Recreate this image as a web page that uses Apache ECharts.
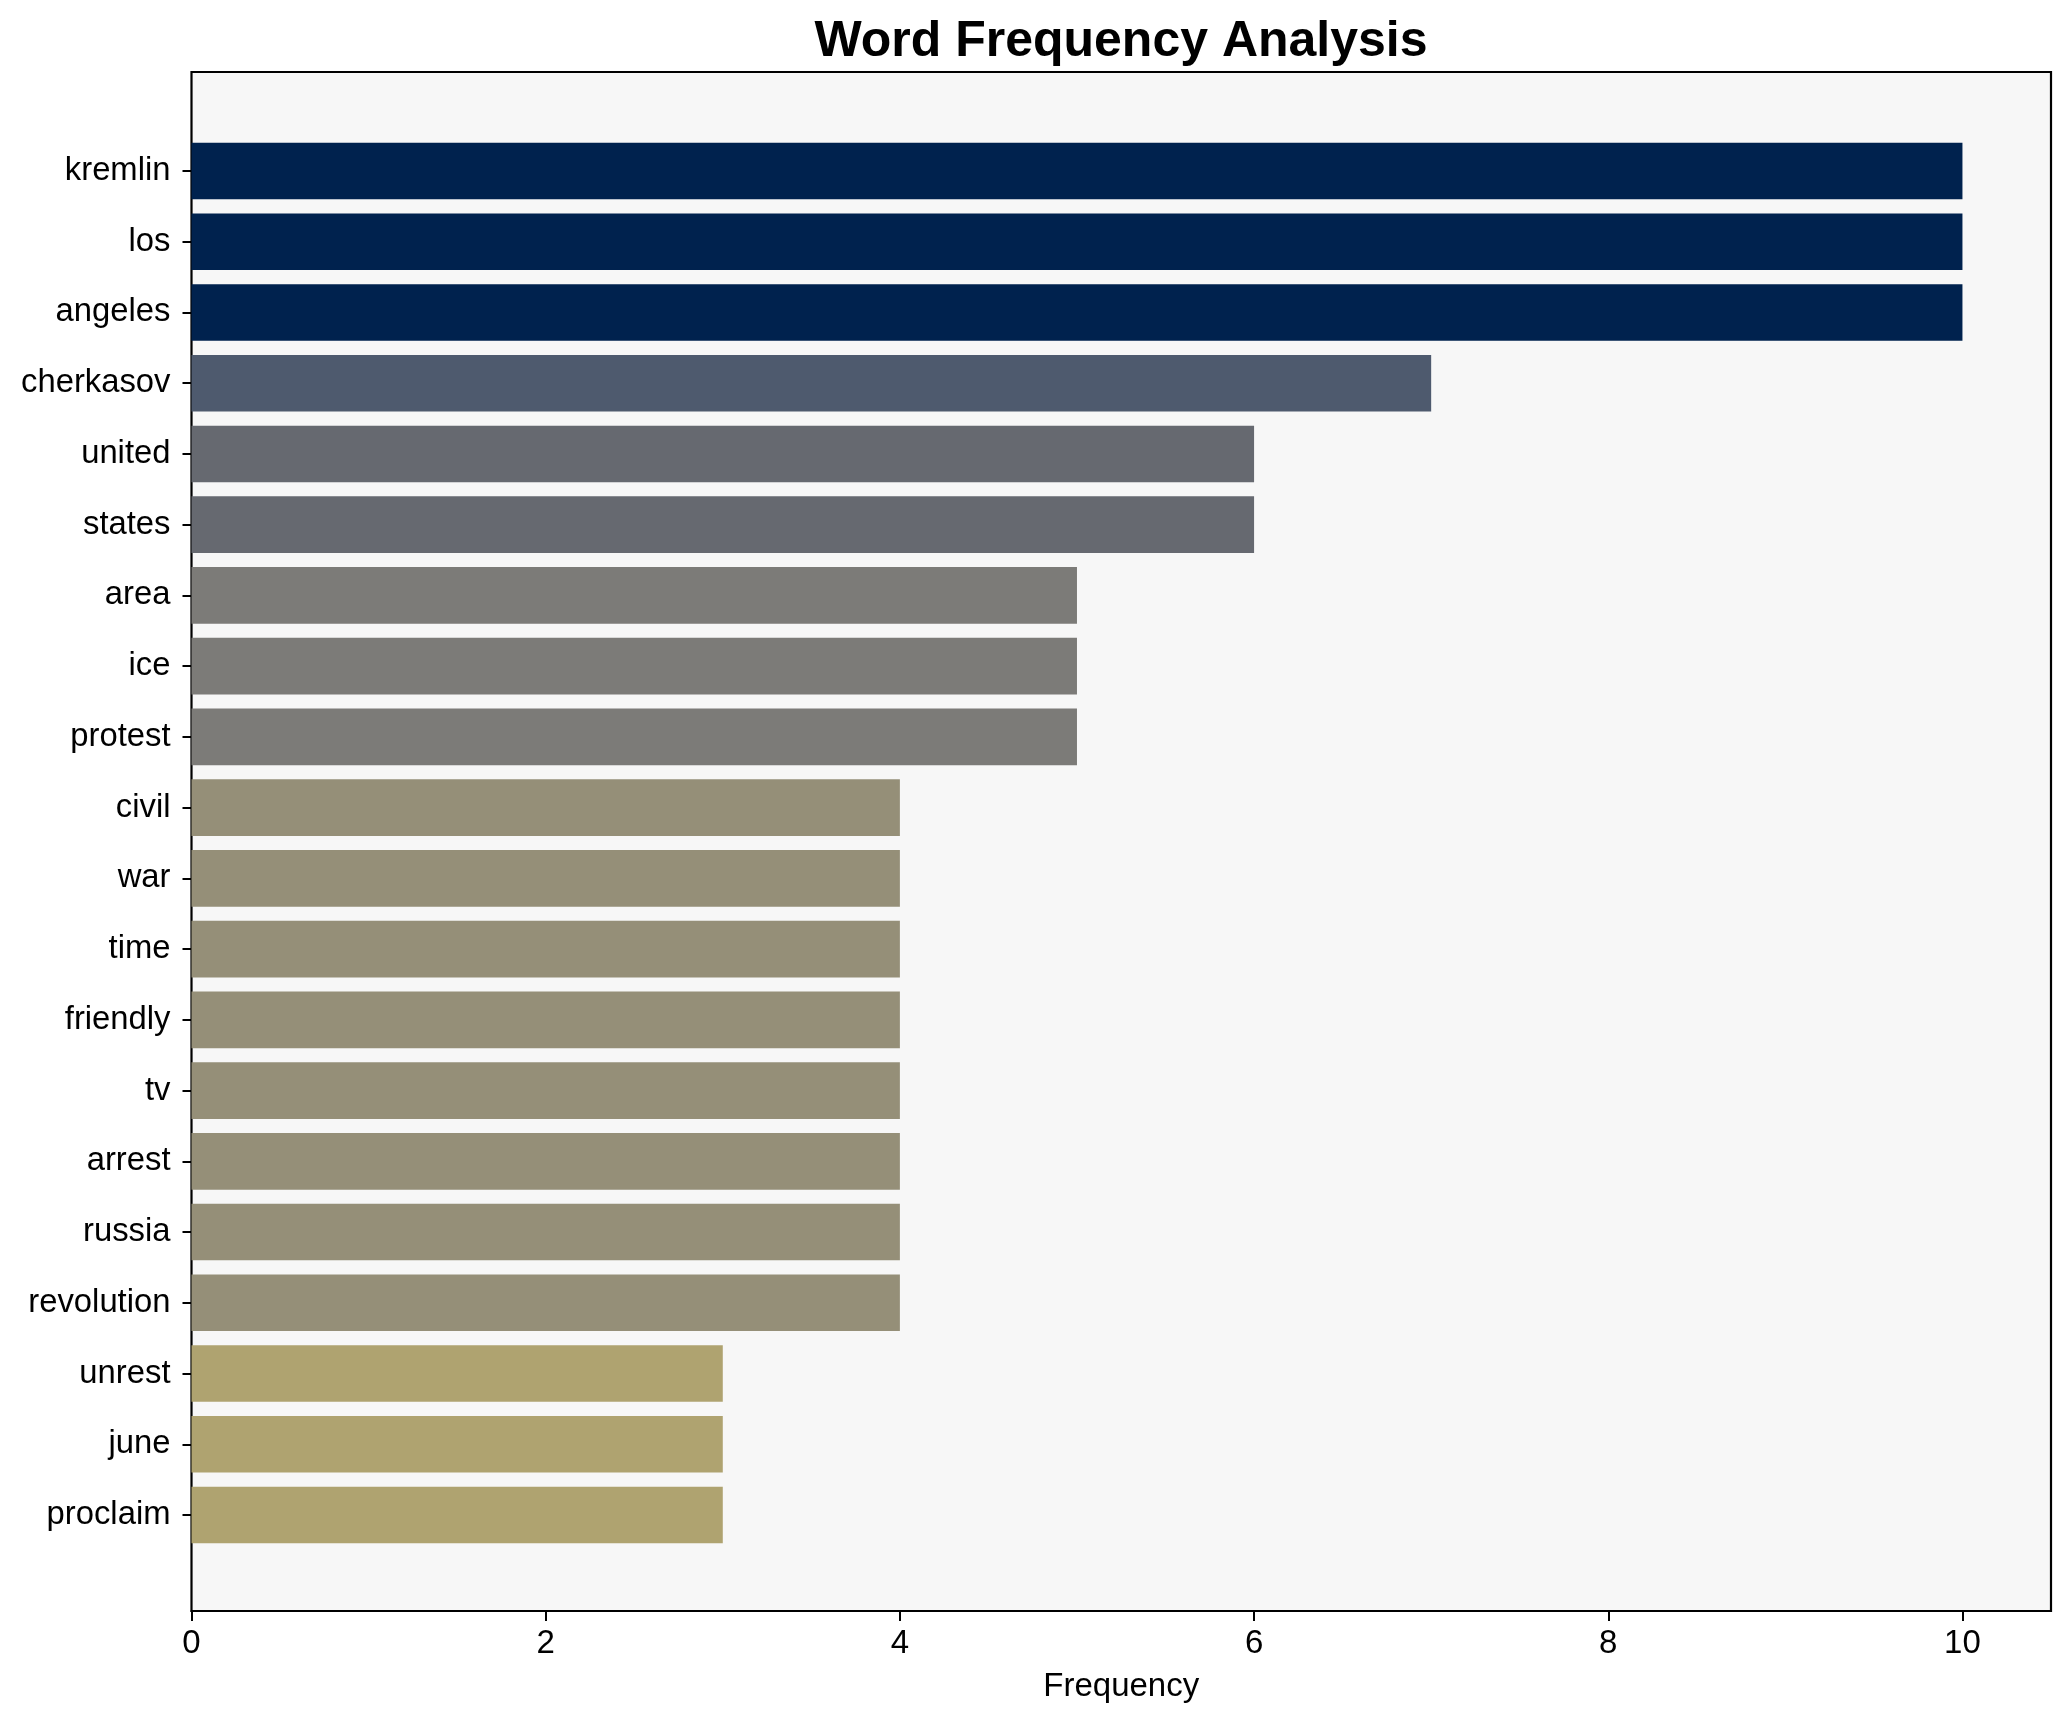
<!DOCTYPE html>
<html>
<head>
<meta charset="utf-8">
<script src="https://cdn.jsdelivr.net/npm/echarts@6/dist/echarts.min.js"></script>
<style>
html,body{margin:0;padding:0;background:#fff;}
#chart{width:2071px;height:1722px;}
</style>
</head>
<body>
<div id="chart"></div>
<script>
// ---- data ----
const words = ["kremlin","los","angeles","cherkasov","united","states","area","ice","protest","civil","war","time","friendly","tv","arrest","russia","revolution","unrest","june","proclaim"];
const frequencies = [10,10,10,7,6,6,5,5,5,4,4,4,4,4,4,4,4,3,3,3];
const xTicks = [0,2,4,6,8,10];

// ---- styles ----
const FONT = "'Liberation Sans', Arial, Helvetica, sans-serif";
const colorByValue = {10:"#00224e",7:"#4e5a6e",6:"#666970",5:"#7c7b78",4:"#958f78",3:"#afa370"};
function barColor(v){ return colorByValue[v] || "#7c7b78"; }

const chart = echarts.init(document.getElementById('chart'), null, {renderer:'canvas'});
const option = {
  backgroundColor: '#ffffff',
  animation: false,
  title: {
    text: 'Word Frequency Analysis',
    left: 1121, top: 17, textAlign: 'center', padding: 0,
    textStyle: {fontFamily: FONT, fontSize: 50, fontWeight: 'bold', color: '#000'}
  },
  grid: [
    {left: 191.5, right: 20, top: 72, bottom: 111, show: true, backgroundColor: '#f7f7f7', borderColor: '#000', borderWidth: 2.2, containLabel: false},
    {left: 191.5, right: 20, top: 135.6, bottom: 171.6, containLabel: false}
  ],
  xAxis: [
    {
      gridIndex: 0, type: 'value', min: 0, max: 10.5,
      name: 'Frequency', nameLocation: 'middle', nameGap: 59,
      nameTextStyle: {fontFamily: FONT, fontSize: 33, color: '#000'},
      axisLine: {show: true, lineStyle: {color: '#000', width: 2.2}},
      axisTick: {show: true, length: 10, customValues: xTicks, lineStyle: {color: '#000', width: 2}},
      axisLabel: {fontFamily: FONT, fontSize: 33, color: '#000', margin: 16,
        customValues: xTicks, formatter: v => String(v)},
      splitLine: {show: false}
    },
    {gridIndex: 1, type: 'value', min: 0, max: 10.5, show: false}
  ],
  yAxis: [
    {gridIndex: 0, type: 'value', min: 0, max: 1, show: false},
    {
      gridIndex: 1, type: 'category', data: words, inverse: true,
      axisLine: {show: false},
      axisTick: {show: true, alignWithLabel: true, length: 9, lineStyle: {color: '#000', width: 2}},
      axisLabel: {fontFamily: FONT, fontSize: 32.8, color: '#000', margin: 21, padding: [5, 0, 0, 0]},
      splitLine: {show: false}
    }
  ],
  series: [{
    type: 'bar',
    xAxisIndex: 1, yAxisIndex: 1,
    barCategoryGap: '20%',
    data: frequencies.map(v => ({value: v, itemStyle: {color: barColor(v)}}))
  }]
};
chart.setOption(option);
</script>
</body>
</html>
